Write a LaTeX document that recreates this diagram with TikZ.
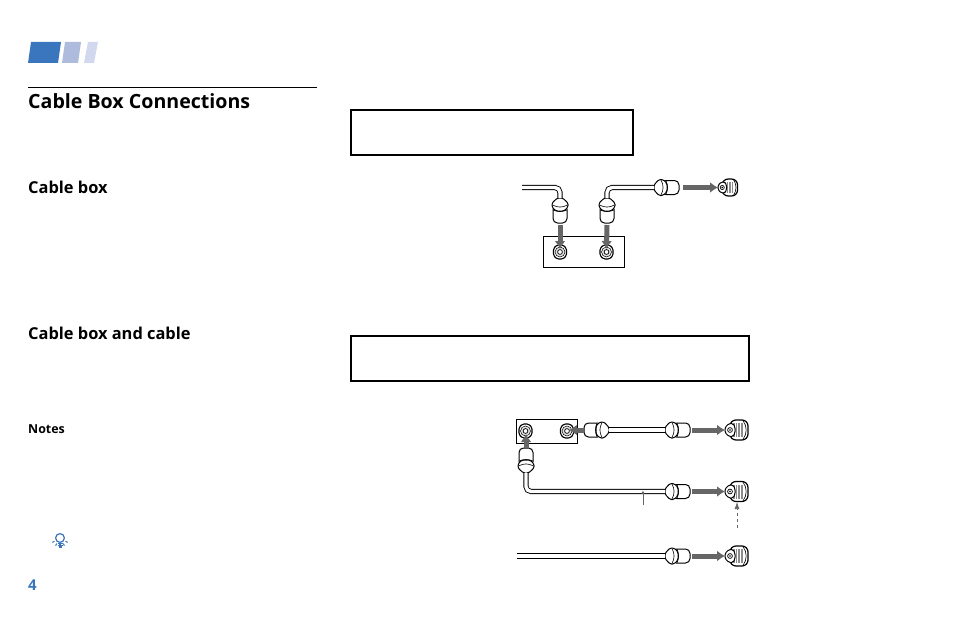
\documentclass[tikz,border=0pt]{standalone}
\usepackage{fontspec}
\setmainfont{Open Sans}
\usetikzlibrary{arrows.meta}
\definecolor{tabblue}{HTML}{3A76BD}
\definecolor{tabmid}{HTML}{AEBBDD}
\definecolor{tablight}{HTML}{D2D8EE}
\definecolor{feedgray}{HTML}{666666}
\tikzset{
  framebox/.style={draw, line width=1pt, inner sep=0pt},
  headtext/.style={anchor=base west, inner sep=0pt, font=\bfseries},
  cable/.style={draw, double=white, double distance=3.4pt, line width=.9pt, rounded corners=5pt},
  feed/.style={draw=feedgray, line width=5pt, -{Latex[length=8pt,width=11pt]}},
  pics/plug/.style={code={
    \coordinate (-tail) at (0,0);
    \coordinate (-tip) at (25,0);
    \draw[fill=white, line width=1pt, rounded corners=4.5pt] (7,-7)--(25,-7)--(25,7)--(7,7)--cycle;
    \draw[fill=white, line width=1pt, rounded corners=1.5pt] (0,-2.6)--(5,-8)--(9,-8)--(13,-4)--(13,4)--(9,8)--(5,8)--(0,2.6)--cycle;
    \draw[line width=.6pt] (7,-7.5) to[bend left=28] (7,7.5);
    \draw[line width=.6pt] (12,-7) to[bend left=22] (12,7);
  }},
  pics/nut/.style={code={
    \coordinate (-c) at (0,0);
    \draw[fill=white, line width=1.1pt, rounded corners=1.5pt] (-6.5,-3.5)--(-3,-7)--(3,-7)--(6.5,-3.5)--(6.5,3.5)--(3,7)--(-3,7)--(-6.5,3.5)--cycle;
    \draw[line width=.5pt, fill=black!12] (0,0) circle (5);
    \draw[fill=white, line width=.7pt] (0,0) circle (2.4);
  }},
  pics/setjack/.style={code={
    \coordinate (-in) at (0,0);
    \coordinate (-rim) at (12,10.5);
    \draw[fill=white, line width=1.2pt, rounded corners=6pt] (5,-10)--(23,-10)--(23,10)--(5,10)--cycle;
    \draw[line width=.6pt] (18,-9.5) to[bend left=35] (18,9.5);
    \fill[black!45] (8,-7) rectangle (17.5,7);
    \foreach \t in {10,12.5,15} \draw[line width=.5pt, white] (\t,-7)--(\t,7);
    \draw[fill=white, line width=1pt, rounded corners=1.5pt] (0,-2.5)--(4,-6.5)--(8,-6.5)--(10,-3)--(10,3)--(8,6.5)--(4,6.5)--(0,2.5)--cycle;
    \draw[fill=white, line width=.7pt] (5,0) circle (2.4);
    \fill (5,0) circle (.9);
  }}
}
\begin{document}
\begin{tikzpicture}[x=1pt, y=-1pt]
\useasboundingbox (0,0) rectangle (954,618);
% tabs and heading
\fill[tabblue] (28,63)--(31,42)--(61,42)--(58,63)--cycle;
\fill[tabmid] (62,63)--(65,42)--(81,42)--(78,63)--cycle;
\fill[tablight] (84,63)--(88,42)--(98,42)--(94,63)--cycle;
\draw[line width=.7pt] (28,87.5)--(317,87.5);
\node[headtext, font=\fontsize{19.6}{21}\selectfont\bfseries] (title) at (28,108) {Cable Box Connections};
\node[headtext, font=\fontsize{16.4}{18}\selectfont\bfseries] (boxhead) at (28,193) {Cable box};
\node[headtext, font=\fontsize{16.4}{18}\selectfont\bfseries] (cablehead) at (28,339) {Cable box and cable};
\node[headtext, font=\fontsize{12.4}{14}\selectfont\bfseries] (notes) at (28,433.5) {Notes};
\node[headtext, font=\fontsize{15}{16}\selectfont\bfseries, text=tabblue] (pageno) at (28,590.5) {4};
% bulb
\draw[tabblue, line width=1.2pt] (60,538) circle (4.4);
\foreach \a in {30,60,90,120,150} \draw[tabblue, line width=1.1pt] (60,538)++(\a:6.4)--++(\a:2.4);
\draw[tabblue, line width=1.4pt] (57.5,543.5)--(62.5,543.5) (57.5,545.2)--(62.5,545.2) (58.5,547)--(61.5,547);
% empty frames
\node[framebox, line width=1.2pt, minimum width=282pt, minimum height=45pt] (framea) at (492,132.5) {};
\node[framebox, line width=1.2pt, minimum width=398pt, minimum height=45pt] (frameb) at (550,358.5) {};
% upper hookup
\node[framebox, minimum width=81pt, minimum height=31pt] (boxa) at (583.5,251.5) {};
\pic (ina) at (560,252) {nut};
\pic (outa) at (606.5,252) {nut};
\pic[rotate=-90] (pa) at (560,198) {plug};
\pic[rotate=-90] (pb) at (607,198) {plug};
\pic (pc) at (654,187.5) {plug};
\pic[scale=.85] (seta) at (718,187.5) {setjack};
\coordinate (enda) at (522,187.5);
\coordinate (ina-stop) at (560,249);
\coordinate (outa-stop) at (606.5,249);
\draw[cable] (enda)-|(pa-tail);
\draw[cable] (pc-tail)-|(pb-tail);
\draw[feed] (pa-tip)++(0,2)--(ina-stop);
\draw[feed] (pb-tip)++(0,2)--(outa-stop);
\draw[feed] (pc-tip)++(4,0)--(seta-in);
% lower hookup
\node[framebox, minimum width=61pt, minimum height=24pt] (boxb) at (546.5,431) {};
\pic (inb) at (525.5,431) {nut};
\pic (outb) at (567,431) {nut};
\pic[rotate=180] (pd) at (609,430) {plug};
\pic (pe) at (665,430) {plug};
\pic[rotate=90] (pf) at (526,473) {plug};
\pic (pg) at (665,491.5) {plug};
\pic (ph) at (665,556) {plug};
\pic (setb) at (725,430) {setjack};
\pic (setc) at (725,491.5) {setjack};
\pic (setd) at (725,556) {setjack};
\coordinate (endb) at (517,556);
\coordinate (callout) at (643,490.5);
\coordinate (calloutend) at (643,505);
\coordinate (dashend) at (737,528);
\coordinate (outb-stop) at (569,430);
\coordinate (inb-stop) at (526,434);
\draw[cable] (pd-tail)--(pe-tail);
\draw[cable] (pf-tail)|-(pg-tail);
\draw[cable] (endb)--(ph-tail);
\draw[feed] (pd-tip)--(outb-stop);
\draw[feed] (pf-tip)--(inb-stop);
\draw[feed] (pe-tip)++(2,0)--(setb-in);
\draw[feed] (pg-tip)++(2,0)--(setc-in);
\draw[feed] (ph-tip)++(2,0)--(setd-in);
\draw[feedgray, line width=.7pt, -{Latex[length=3pt,width=3pt]}] (calloutend)--(callout);
\draw[feedgray, line width=.7pt, dashed, -{Latex[length=7pt,width=5pt]}] (dashend)--(setc-rim);
\end{tikzpicture}
\end{document}
